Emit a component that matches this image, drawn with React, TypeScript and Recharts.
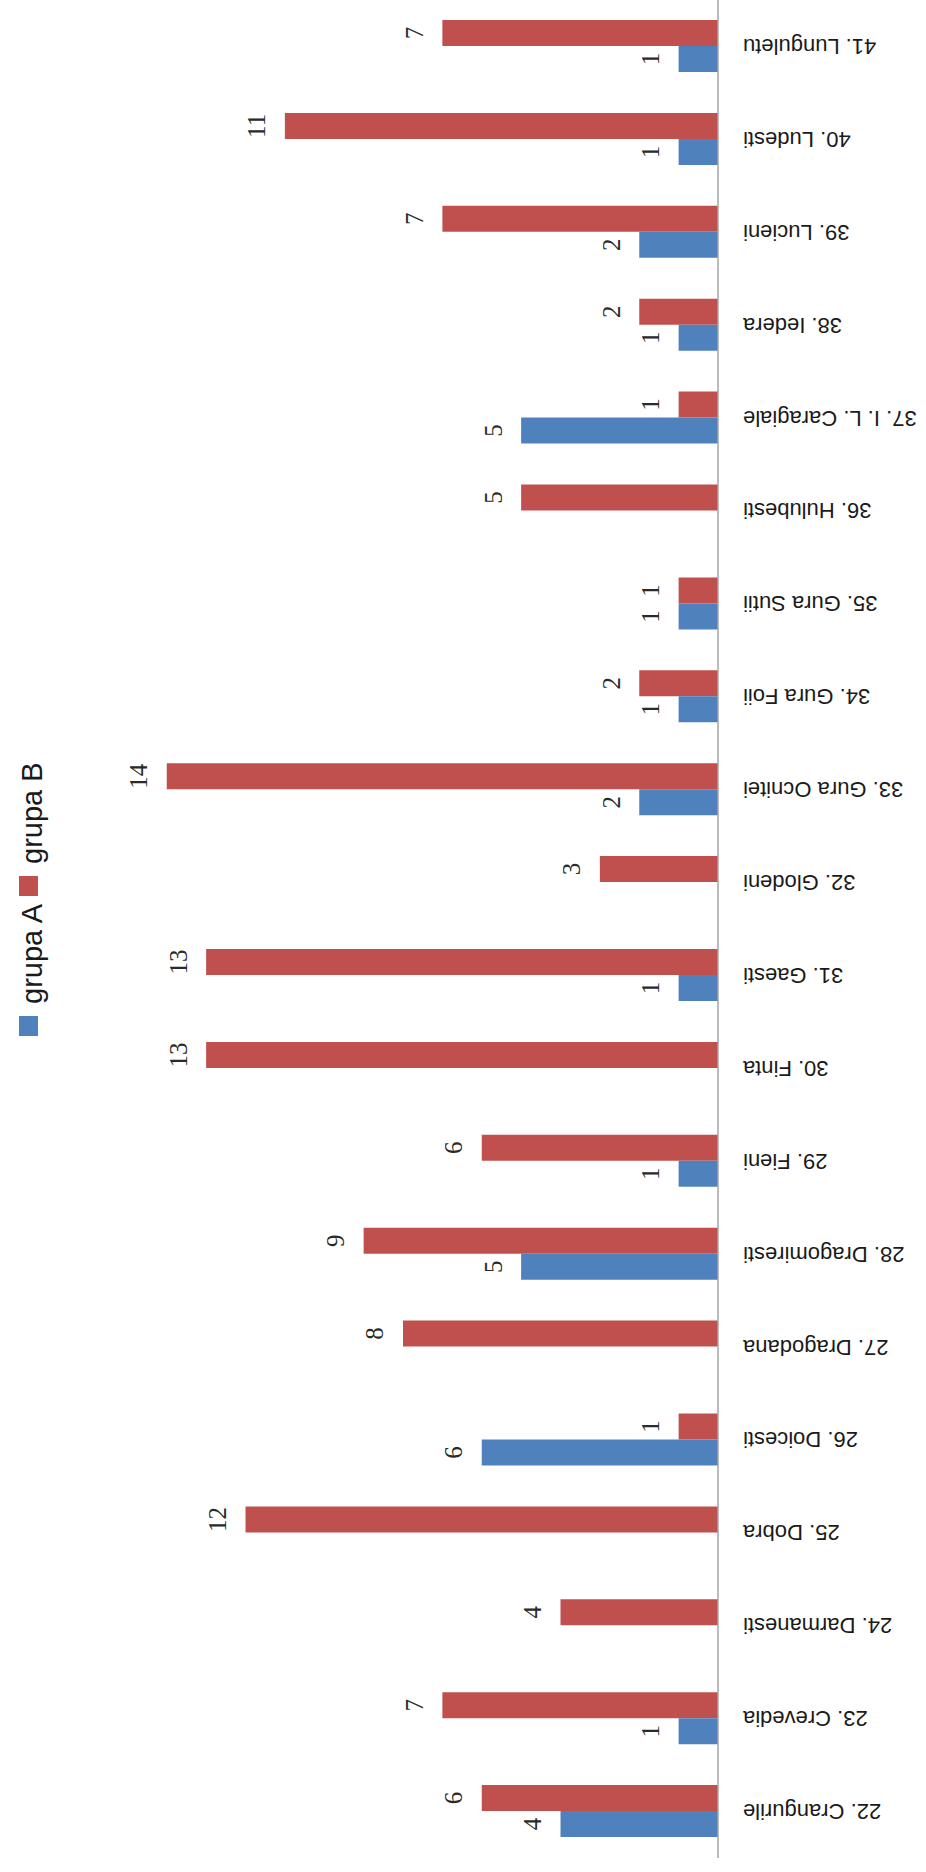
import { BarChart, Bar, XAxis, YAxis, LabelList } from "recharts";

const villages = [
  "22. Crangurile",
  "23. Crevedia",
  "24. Darmanesti",
  "25. Dobra",
  "26. Doicesti",
  "27. Dragodana",
  "28. Dragomiresti",
  "29. Fieni",
  "30. Finta",
  "31. Gaesti",
  "32. Glodeni",
  "33. Gura Ocnitei",
  "34. Gura Foii",
  "35. Gura Sutii",
  "36. Hulubesti",
  "37. I. L. Caragiale",
  "38. Iedera",
  "39. Lucieni",
  "40. Ludesti",
  "41. Lunguletu",
];
const grupaA = [4, 1, 0, 0, 6, 0, 5, 1, 0, 1, 0, 2, 1, 1, 0, 5, 1, 2, 1, 1];
const grupaB = [6, 7, 4, 12, 1, 8, 9, 6, 13, 13, 3, 14, 2, 1, 5, 1, 2, 7, 11, 7];

const BLUE = "#4F81BD";
const RED = "#C0504D";

const data = villages.map((name, i) => ({ name, a: grupaA[i], b: grupaB[i] }));

// category names are drawn upside down, hugging the axis
function VillageTick({ y, payload }: any) {
  const tx = 743;
  return (
    <text
      x={tx}
      y={y}
      textAnchor="end"
      dominantBaseline="central"
      transform={`rotate(180, ${tx}, ${y})`}
      fontFamily="Liberation Sans, Arial, sans-serif"
      fontSize={22}
      fill="#1a1a1a"
    >
      {payload.value}
    </text>
  );
}

function ValueLabel({ x, y, width, height, value }: any) {
  const left = Math.min(x, x + width);
  const cx = left - 28;
  const cy = y + height / 2;
  return (
    <text
      x={cx}
      y={cy}
      textAnchor="middle"
      dominantBaseline="central"
      transform={`rotate(-90, ${cx}, ${cy})`}
      fontFamily="Liberation Serif, Times New Roman, serif"
      fontSize={25}
      fill="#2a2a2a"
    >
      {value}
    </text>
  );
}

function SideLegend() {
  const items = [
    { label: "grupa A", color: BLUE, squareY: 1016 },
    { label: "grupa B", color: RED, squareY: 876 },
  ];
  return (
    <svg width={60} height={1872} style={{ position: "absolute", left: 0, top: 0 }}>
      {items.map((it) => {
        const tx = 42;
        const ty = it.squareY - 12;
        return (
          <g key={it.label}>
            <rect x={19} y={it.squareY} width={19} height={20} fill={it.color} />
            <text
              x={tx}
              y={ty}
              textAnchor="start"
              transform={`rotate(-90, ${tx}, ${ty})`}
              fontFamily="Liberation Sans, Arial, sans-serif"
              fontSize={29}
              fill="#1a1a1a"
            >
              {it.label}
            </text>
          </g>
        );
      })}
    </svg>
  );
}

export default function App() {
  return (
    <div style={{ position: "relative", width: 926, height: 1872, background: "#fff" }}>
      <style>{`body{margin:0}`}</style>
      <BarChart
        width={926}
        height={1872}
        data={data}
        layout="vertical"
        margin={{ top: 0, right: 0, bottom: 14, left: 88 }}
        barSize={26}
        barGap={0}
      >
        <XAxis type="number" domain={[0, 16]} reversed hide />
        <YAxis
          type="category"
          dataKey="name"
          orientation="right"
          reversed
          width={208}
          axisLine={{ stroke: "#a6a6a6", strokeWidth: 1.5 }}
          tickLine={false}
          tick={<VillageTick />}
          interval={0}
        />
        <Bar dataKey="b" name="grupa B" fill={RED} isAnimationActive={false}>
          <LabelList dataKey="b" content={<ValueLabel />} />
        </Bar>
        <Bar dataKey="a" name="grupa A" fill={BLUE} isAnimationActive={false}>
          <LabelList dataKey="a" content={<ValueLabel />} />
        </Bar>
      </BarChart>
      <SideLegend />
    </div>
  );
}
